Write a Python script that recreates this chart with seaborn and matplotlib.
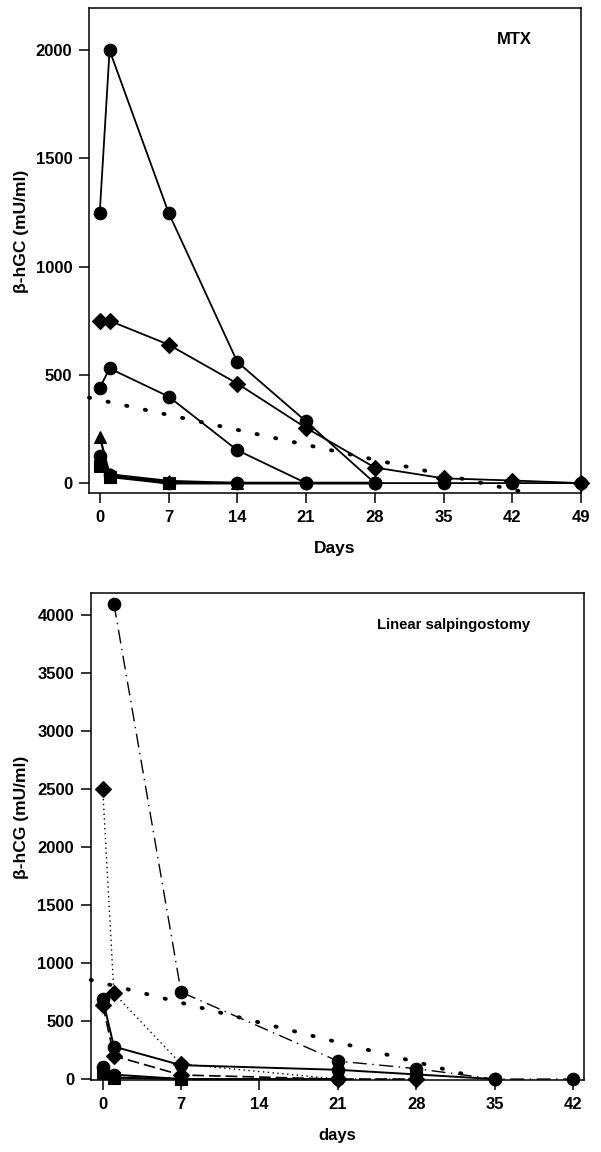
import matplotlib
matplotlib.use("Agg")
import matplotlib.pyplot as plt
import seaborn as sns

# ---- MTX panel data (days, beta-hCG mU/ml) ----
mtx_days_a = [0, 1, 7, 14, 21, 28, 35, 42, 49]
mtx_vals_a = [1250, 2000, 1250, 560, 285, 0, 0, 0, 0]
mtx_days_b = [0, 1, 7, 14, 21, 28, 35, 42, 49]
mtx_vals_b = [750, 750, 640, 460, 255, 72, 22, 12, 0]
mtx_days_c = [0, 1, 7, 14, 21, 28]
mtx_vals_c = [440, 530, 400, 152, 0, 0]
mtx_days_d = [0, 1, 7, 14]
mtx_vals_d = [215, 40, 10, 0]
mtx_days_e = [0, 1, 7, 14, 21, 28]
mtx_vals_e = [125, 38, 0, 0, 0, 0]
mtx_days_f = [0, 1, 7]
mtx_vals_f = [78, 30, 0]
mtx_trend_days = [-1.1, 43.5]
mtx_trend_vals = [395, -45]

# ---- Linear salpingostomy panel data ----
ls_days_1 = [1, 7, 21, 28, 35, 42]
ls_vals_1 = [4100, 750, 155, 90, 0, 0]
ls_days_2 = [0, 1, 7, 21, 28]
ls_vals_2 = [2500, 740, 130, 0, 0]
ls_days_3 = [0, 1, 7, 21, 28, 35]
ls_vals_3 = [690, 280, 120, 80, 40, 0]
ls_days_4 = [0, 1, 7, 21, 28]
ls_vals_4 = [640, 200, 35, 0, 0]
ls_days_5 = [0, 1, 7, 21]
ls_vals_5 = [105, 38, 0, 0]
ls_days_6 = [0, 1, 7]
ls_vals_6 = [55, 12, 0]
ls_trend_days = [-1.07, 33]
ls_trend_vals = [855, 25]

sns.set_theme(style="ticks")
plt.rcParams['font.family'] = ['Liberation Sans', 'DejaVu Sans']
plt.rcParams['font.weight'] = 'bold'
plt.rcParams['text.color'] = 'black'
plt.rcParams['axes.labelcolor'] = 'black'
plt.rcParams['xtick.color'] = 'black'
plt.rcParams['ytick.color'] = 'black'

fig = plt.figure(figsize=(6.01, 11.52), dpi=100)
ax1 = fig.add_axes([0.148, 0.572, 0.819, 0.421])
ax2 = fig.add_axes([0.151, 0.0625, 0.821, 0.4225])


def series(ax, x, y, marker, ls='-', lw=1.3, ms=9):
    sns.lineplot(x=x, y=y, ax=ax, color='black', marker=marker, markersize=ms,
                 linestyle=ls, linewidth=lw, mec='black', mfc='black',
                 markeredgewidth=0.8, clip_on=False, zorder=3)


def trend(ax, x, y):
    sns.lineplot(x=x, y=y, ax=ax, color='black', linestyle=(0, (0.3, 4.6)),
                 linewidth=2.8, dash_capstyle='round', clip_on=False, zorder=2)


# MTX
series(ax1, mtx_days_e, mtx_vals_e, 'o', lw=2.0)
series(ax1, mtx_days_f, mtx_vals_f, 's', lw=2.0, ms=8)
series(ax1, mtx_days_d, mtx_vals_d, '^', lw=1.6)
series(ax1, mtx_days_c, mtx_vals_c, 'o')
series(ax1, mtx_days_b, mtx_vals_b, 'D', ms=8)
series(ax1, mtx_days_a, mtx_vals_a, 'o')
trend(ax1, mtx_trend_days, mtx_trend_vals)

ax1.set_xlim(-1.1, 49)
ax1.set_ylim(-46, 2195)
ax1.set_xticks([0, 7, 14, 21, 28, 35, 42, 49])
ax1.set_yticks([0, 500, 1000, 1500, 2000])
ax1.set_xlabel('Days', fontsize=12.5, fontweight='bold', labelpad=12)
ax1.set_ylabel('β-hGC (mU/ml)', fontsize=12.5, fontweight='bold')
ax1.yaxis.set_label_coords(-0.122, 0.54)
ax1.text(0.865, 0.935, 'MTX', transform=ax1.transAxes, fontsize=12,
         fontweight='bold', ha='center', va='center')

# Linear salpingostomy
series(ax2, ls_days_6, ls_vals_6, 's', lw=1.5, ms=8)
series(ax2, ls_days_5, ls_vals_5, 'o', lw=1.5)
series(ax2, ls_days_4, ls_vals_4, 'D', ls=(0, (7, 3)), lw=1.2, ms=8)
series(ax2, ls_days_3, ls_vals_3, 'o', lw=1.4)
series(ax2, ls_days_2, ls_vals_2, 'D', ls=(0, (1, 2.5)), lw=1.0, ms=8)
series(ax2, ls_days_1, ls_vals_1, 'o', ls=(0, (10, 4, 1, 4)), lw=1.0)
trend(ax2, ls_trend_days, ls_trend_vals)

ax2.set_xlim(-1.07, 43)
ax2.set_ylim(-8, 4190)
ax2.set_xticks([0, 7, 14, 21, 28, 35, 42])
ax2.set_yticks(range(0, 4001, 500))
ax2.set_xlabel('days', fontsize=12, fontweight='bold', labelpad=12)
ax2.set_ylabel('β-hCG (mU/ml)', fontsize=12.5, fontweight='bold')
ax2.yaxis.set_label_coords(-0.126, 0.54)
ax2.text(0.735, 0.935, 'Linear salpingostomy', transform=ax2.transAxes,
         fontsize=10.7, fontweight='bold', ha='center', va='center')

for ax in (ax1, ax2):
    for s in ax.spines.values():
        s.set_visible(True)
        s.set_color('black')
        s.set_linewidth(1.1)
    ax.tick_params(direction='out', length=7, width=1.1, colors='black',
                   labelsize=12, pad=5)
    for lab in ax.get_xticklabels() + ax.get_yticklabels():
        lab.set_fontweight('bold')
    ax.set_facecolor('white')

fig.savefig('out.png', dpi=100, facecolor='white')
